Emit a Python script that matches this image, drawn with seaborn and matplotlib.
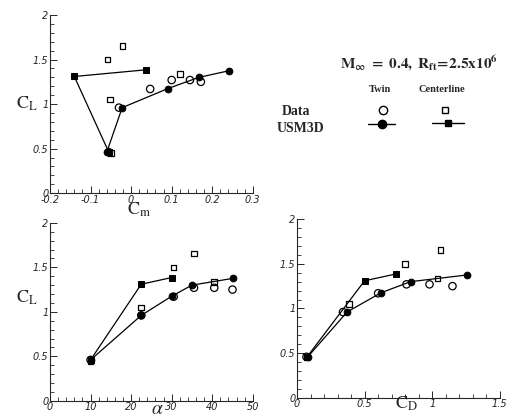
import numpy as np
import pandas as pd
import matplotlib
matplotlib.use("Agg")
import matplotlib.pyplot as plt
from matplotlib.lines import Line2D
from matplotlib.ticker import MultipleLocator
import seaborn as sns

# =========================================
# DATA
# =========================================

# wind tunnel data, twin configuration (open circles)
twin_alpha = [10, 22.5, 30.5, 35.5, 40.5, 45]
twin_cl = [0.46, 0.96, 1.17, 1.27, 1.27, 1.25]
twin_cm = [-0.055, -0.03, 0.047, 0.10, 0.145, 0.172]
twin_cd = [0.07, 0.34, 0.60, 0.81, 0.98, 1.15]

# wind tunnel data, centerline configuration (open squares)
cent_alpha = [10, 22.5, 30.5, 35.5, 40.5]
cent_cl = [0.45, 1.05, 1.50, 1.655, 1.335]
cent_cm = [-0.05, -0.052, -0.058, -0.021, 0.12]
cent_cd = [0.07, 0.385, 0.80, 1.06, 1.04]

# USM3D twin (filled circles + line)
usm_twin_alpha = [10, 22.5, 30, 35, 45]
usm_twin_cl = [0.46, 0.96, 1.175, 1.30, 1.375]
usm_twin_cm = [-0.06, -0.022, 0.091, 0.167, 0.242]
usm_twin_cd = [0.08, 0.37, 0.62, 0.84, 1.26]

# USM3D centerline (filled squares + line)
usm_cent_alpha = [10, 22.5, 30]
usm_cent_cl = [0.46, 1.31, 1.385]
usm_cent_cm = [-0.055, -0.14, 0.037]
usm_cent_cd = [0.075, 0.50, 0.73]

data_twin = pd.DataFrame({"alpha": twin_alpha, "CL": twin_cl, "Cm": twin_cm, "CD": twin_cd})
data_cent = pd.DataFrame({"alpha": cent_alpha, "CL": cent_cl, "Cm": cent_cm, "CD": cent_cd})
usm_twin = pd.DataFrame({"alpha": usm_twin_alpha, "CL": usm_twin_cl, "Cm": usm_twin_cm, "CD": usm_twin_cd})
usm_cent = pd.DataFrame({"alpha": usm_cent_alpha, "CL": usm_cent_cl, "Cm": usm_cent_cm, "CD": usm_cent_cd})

yticks = [0, 0.5, 1, 1.5, 2]
ytick_labels = ["0", "0.5", "1", "1.5", "2"]

# =========================================
# STYLE
# =========================================

sns.set_style("ticks")
plt.rcParams['font.family'] = ['DejaVu Sans']
plt.rcParams['mathtext.fontset'] = 'stix'
plt.rcParams['xtick.direction'] = 'in'
plt.rcParams['ytick.direction'] = 'in'

fig = plt.figure(figsize=(5.07, 4.18), dpi=100)

ax_cm = fig.add_axes([0.0986, 0.538, 0.400, 0.426])
ax_al = fig.add_axes([0.0986, 0.041, 0.400, 0.426])
ax_cd = fig.add_axes([0.5858, 0.048, 0.400, 0.428])


def draw_panel(ax, xcol, sort_lines):
    sns.lineplot(data=usm_twin, x=xcol, y="CL", ax=ax, color="black", lw=0.9,
                 marker="o", markersize=4.8, markeredgecolor="black",
                 estimator=None, sort=sort_lines, zorder=3)
    sns.lineplot(data=usm_cent, x=xcol, y="CL", ax=ax, color="black", lw=0.9,
                 marker="s", markersize=3.8, markeredgecolor="black",
                 estimator=None, sort=sort_lines, zorder=3)
    sns.scatterplot(data=data_twin, x=xcol, y="CL", ax=ax, marker="o", s=28,
                    facecolor="none", edgecolor="black", linewidth=0.9, zorder=4)
    sns.scatterplot(data=data_cent, x=xcol, y="CL", ax=ax, marker="s", s=16,
                    facecolor="none", edgecolor="black", linewidth=0.9, zorder=4)
    ax.set_ylim(0, 2)
    ax.set_yticks(yticks)
    ax.set_yticklabels(ytick_labels, fontstyle="italic")
    ax.yaxis.set_minor_locator(MultipleLocator(0.1))
    ax.tick_params(which="major", length=5, width=0.7, labelsize=7, pad=1)
    ax.tick_params(which="minor", length=3, width=0.6)
    sns.despine(ax=ax)
    ax.spines["left"].set_linewidth(0.8)
    ax.spines["bottom"].set_linewidth(0.8)
    ax.set_xlabel("")
    ax.set_ylabel("")


# =========================================
# CL vs Cm
# =========================================

draw_panel(ax_cm, "Cm", False)
ax_cm.set_xlim(-0.2, 0.3)
ax_cm.set_xticks([-0.2, -0.1, 0, 0.1, 0.2, 0.3])
ax_cm.set_xticklabels(["-0.2", "-0.1", "0", "0.1", "0.2", "0.3"], fontstyle="italic")
ax_cm.xaxis.set_minor_locator(MultipleLocator(0.02))
ax_cm.text(-0.115, 0.50, r"$\mathrm{C_L}$", transform=ax_cm.transAxes, fontsize=13,
           ha="center", va="center")
ax_cm.text(0.44, -0.095, r"$\mathrm{C_m}$", transform=ax_cm.transAxes, fontsize=13,
           ha="center", va="center")

# =========================================
# CL vs alpha
# =========================================

draw_panel(ax_al, "alpha", True)
ax_al.set_xlim(0, 50)
ax_al.set_xticks([0, 10, 20, 30, 40, 50])
ax_al.set_xticklabels(["0", "10", "20", "30", "40", "50"], fontstyle="italic")
ax_al.xaxis.set_minor_locator(MultipleLocator(2))
ax_al.text(-0.115, 0.58, r"$\mathrm{C_L}$", transform=ax_al.transAxes, fontsize=13,
           ha="center", va="center")
ax_al.text(0.53, -0.042, r"$\alpha$", transform=ax_al.transAxes, fontsize=14,
           ha="center", va="center")

# =========================================
# CL vs CD
# =========================================

draw_panel(ax_cd, "CD", True)
ax_cd.set_xlim(0, 1.5)
ax_cd.set_xticks([0, 0.5, 1, 1.5])
ax_cd.set_xticklabels(["0", "0.5", "1", "1.5"], fontstyle="italic")
ax_cd.xaxis.set_minor_locator(MultipleLocator(0.1))
ax_cd.text(0.54, -0.035, r"$\mathrm{C_D}$", transform=ax_cd.transAxes, fontsize=13,
           ha="center", va="center")

# =========================================
# LEGEND BLOCK
# =========================================

fig.text(0.826, 0.848, r"$\mathbf{M_{\infty}\ =\ 0.4,\ R_{ft}\!=\!2.5x10^6}$",
         fontsize=11, ha="center", va="center")
fig.text(0.750, 0.785, "Twin", fontfamily="Liberation Serif", fontweight="bold",
         fontsize=7.5, ha="center", va="center")
fig.text(0.872, 0.785, "Centerline", fontfamily="Liberation Serif", fontweight="bold",
         fontsize=7.5, ha="center", va="center")
fig.text(0.584, 0.734, "Data", fontfamily="Liberation Serif", fontweight="bold",
         fontsize=10, ha="center", va="center")
fig.text(0.592, 0.693, "USM3D", fontfamily="Liberation Serif", fontweight="bold",
         fontsize=10, ha="center", va="center")

fig.add_artist(Line2D([0.755], [0.737], transform=fig.transFigure, marker="o",
                      markersize=6, markerfacecolor="none", markeredgecolor="black",
                      markeredgewidth=1.0, linestyle="none"))
fig.add_artist(Line2D([0.877], [0.737], transform=fig.transFigure, marker="s",
                      markersize=5, markerfacecolor="none", markeredgecolor="black",
                      markeredgewidth=1.0, linestyle="none"))
fig.add_artist(Line2D([0.726, 0.780], [0.703, 0.703], transform=fig.transFigure,
                      color="black", lw=1.0))
fig.add_artist(Line2D([0.753], [0.703], transform=fig.transFigure, marker="o",
                      markersize=6, color="black", linestyle="none"))
fig.add_artist(Line2D([0.852, 0.915], [0.705, 0.705], transform=fig.transFigure,
                      color="black", lw=1.0))
fig.add_artist(Line2D([0.883], [0.705], transform=fig.transFigure, marker="s",
                      markersize=5, color="black", linestyle="none"))

fig.savefig("out.png", dpi=100)
